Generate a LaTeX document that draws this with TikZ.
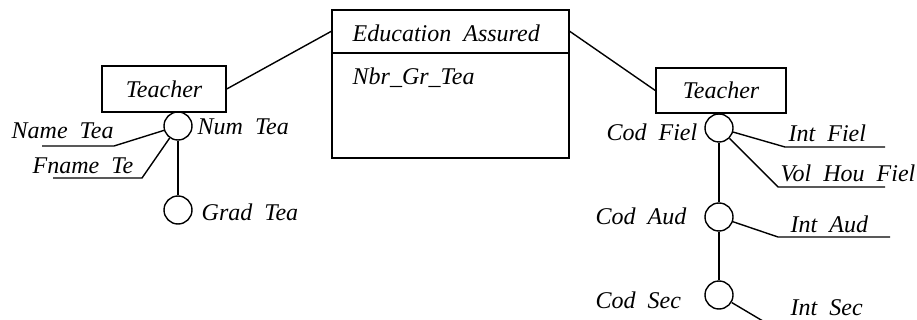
\documentclass[tikz,border=0pt]{standalone}
\usepackage{fontspec}
\setmainfont{Liberation Serif}
\usetikzlibrary{calc}
\newcommand\erfont{\fontsize{24}{28}\selectfont\itshape\spaceskip=0.5em\relax}

\begin{document}
\begin{tikzpicture}[x=1pt, y=-1pt, line width=1.4pt,
	every node/.style={font=\erfont},
	entity/.style={draw, rectangle, inner sep=0pt},
	ident/.style={draw, circle, minimum size=28pt, inner sep=0pt},
	attr/.style={inner sep=0pt}]
	\useasboundingbox (0,0) rectangle (917,320);
	\clip (0,0) rectangle (917,320);
	
	\node[entity, minimum width=237pt, minimum height=148pt] (assoc) at (450.5,84) {};
	\coordinate (hdL) at (332,53);
	\coordinate (hdR) at (569,53);
	\draw (hdL) -- (hdR);
	\node[attr, anchor=west] (assocname) at (352,33) {Education Assured};
	\node[attr, anchor=west] (nbr) at (352,78) {Nbr\_Gr\_Tea};
	
	\node[entity, minimum width=124pt, minimum height=46pt] (teachL) at (164,89) {Teacher};
	\node[entity, minimum width=130pt, minimum height=45pt] (teachR) at (721,90.5) {Teacher};
	\draw (teachL.east) -- ($(assoc.north west)+(0,22)$);
	\draw ($(assoc.north east)+(0,22)$) -- (teachR.west);
	
	\node[ident] (numtea) at (178,126) {};
	\node[ident] (gradtea) at (178,210) {};
	\node[attr, anchor=west] (numtealbl) at (197,127) {Num Tea};
	\node[attr, anchor=west] (gradtealbl) at (201,212) {Grad Tea};
	\node[attr, anchor=west] (nametea) at (11,131) {Name Tea};
	\node[attr, anchor=west] (fnamete) at (32,166) {Fname Te};
	\coordinate (nameA) at (114,146);
	\coordinate (nameB) at (42,146);
	\coordinate (fnameA) at (142,178);
	\coordinate (fnameB) at (53,178);
	\draw (numtea) -- (gradtea);
	\draw (numtea) -- (nameA) -- (nameB);
	\draw (numtea) -- (fnameA) -- (fnameB);
	
	\node[ident] (codfiel) at (719,128) {};
	\node[ident] (codaud) at (719,217) {};
	\node[ident] (codsec) at (719,295) {};
	\node[attr, anchor=east] (codfiellbl) at (698,132) {Cod Fiel};
	\node[attr, anchor=west] (codaudlbl) at (595,216) {Cod Aud};
	\node[attr, anchor=west] (codseclbl) at (595,300) {Cod Sec};
	\node[attr, anchor=west] (intfiel) at (788,133) {Int Fiel};
	\node[attr, anchor=west] (volhou) at (780,173) {Vol Hou Fiel};
	\node[attr, anchor=west] (intaud) at (790,224) {Int Aud};
	\node[attr, anchor=west] (intsec) at (790,308) {Int Sec};
	\coordinate (intfA) at (785,147);
	\coordinate (intfB) at (885,147);
	\coordinate (volA) at (778,187);
	\coordinate (volB) at (885,187);
	\coordinate (intaA) at (778,237);
	\coordinate (intaB) at (890,237);
	\coordinate (intsA) at (778,330);
	\coordinate (intsB) at (890,330);
	\draw (codfiel) -- (codaud) -- (codsec);
	\draw (codfiel) -- (intfA) -- (intfB);
	\draw (codfiel) -- (volA) -- (volB);
	\draw (codaud) -- (intaA) -- (intaB);
	\draw (codsec) -- (intsA) -- (intsB);
\end{tikzpicture}
\end{document}
